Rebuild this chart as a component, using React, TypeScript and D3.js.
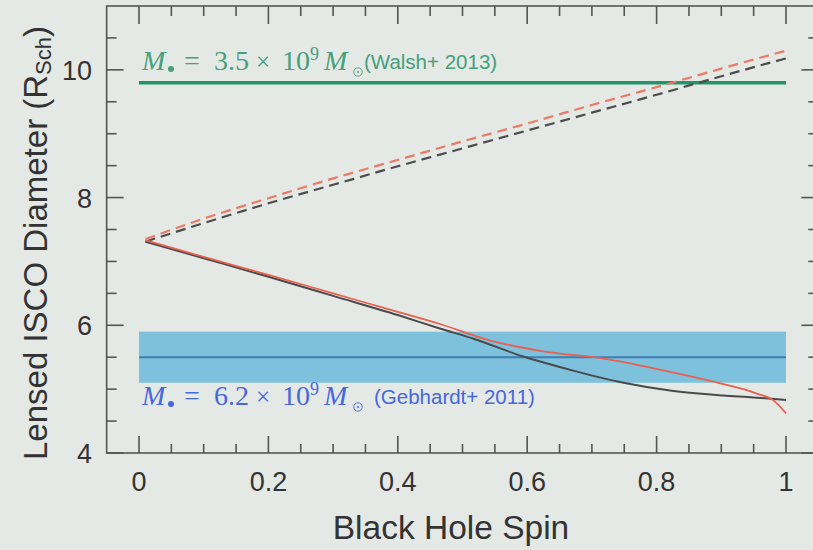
import React from "react";
import * as d3 from "d3";

// Black hole spin sampling and lensed ISCO diameters (in Schwarzschild radii)
const spinProgradeBlack = [0.01, 0.1, 0.2, 0.3, 0.4, 0.465, 0.517, 0.594, 0.671, 0.749, 0.826, 0.903, 0.95, 1.0];
const diamProgradeBlack = [7.31, 7.05, 6.76, 6.46, 6.16, 5.95, 5.79, 5.51, 5.29, 5.1, 4.97, 4.9, 4.87, 4.83];

const spinProgradeRed = [0.01, 0.1, 0.2, 0.3, 0.4, 0.465, 0.543, 0.62, 0.723, 0.826, 0.903, 0.955, 0.981, 1.0];
const diamProgradeRed = [7.33, 7.07, 6.79, 6.5, 6.21, 6.02, 5.76, 5.6, 5.47, 5.26, 5.08, 4.93, 4.82, 4.62];

const spinRetro = [0.01, 0.1, 0.2, 0.3, 0.4, 0.5, 0.6, 0.7, 0.8, 0.9, 1.0];
const diamRetroRed = [7.35, 7.67, 7.99, 8.3, 8.59, 8.88, 9.16, 9.45, 9.73, 10.02, 10.3];
const diamRetroBlack = [7.31, 7.6, 7.91, 8.2, 8.49, 8.77, 9.05, 9.33, 9.61, 9.9, 10.18];

// Mass-based constraints
const walshDiameter = 9.8;
const gebhardtDiameter = 5.5;
const gebhardtLow = 5.1;
const gebhardtHigh = 5.9;
const bandSpinRange = [0, 1];

const xTickLabels = ["0", "0.2", "0.4", "0.6", "0.8", "1"];
const xMajorTicks = [0, 0.2, 0.4, 0.6, 0.8, 1];
const yTickLabels = ["4", "6", "8", "10"];
const yMajorTicks = [4, 6, 8, 10];

const W = 813;
const H = 550;
const BG = "#e4e9e6";
const AXIS = "#555";
const SANS = "'Liberation Sans', Arial, sans-serif";

const x = d3.scaleLinear().domain([-0.05, 1.05]).range([106.65, 818.35]);
const y = d3.scaleLinear().domain([4, 11]).range([453, 6]);

const line = d3
  .line<[number, number]>()
  .x((d) => x(d[0]))
  .y((d) => y(d[1]))
  .curve(d3.curveMonotoneX);

const zip = (a: number[], b: number[]) => a.map((v, i) => [v, b[i]] as [number, number]);

type LabelProps = { x0: number; base: number; mantissa: string; ref: string; refX: number; color: string };

function MassLabel({ x0, base, mantissa, ref, refX, color }: LabelProps) {
  const serif = "'Liberation Serif', 'DejaVu Serif', serif";
  return (
    <g fill={color}>
      <text x={x0} y={base} fontFamily={serif} fontStyle="italic" fontSize={28}>M</text>
      <circle cx={x0 + 29} cy={base - 1} r={3} />
      <text x={x0 + 42} y={base} fontFamily={serif} fontSize={28}>=</text>
      <text x={x0 + 72} y={base} fontFamily={serif} fontSize={28}>{mantissa}</text>
      <text x={x0 + 114} y={base} fontFamily={serif} fontSize={25}>×</text>
      <text x={x0 + 140} y={base} fontFamily={serif} fontSize={28}>10</text>
      <text x={x0 + 168} y={base - 10} fontFamily={serif} fontSize={18}>9</text>
      <text x={x0 + 182} y={base} fontFamily={serif} fontStyle="italic" fontSize={28}>M</text>
      <circle cx={x0 + 216} cy={base + 2} r={4.2} fill="none" stroke={color} strokeWidth={0.9} />
      <circle cx={x0 + 216} cy={base + 2} r={1} />
      <text x={refX} y={base - 1} fontFamily={SANS} fontSize={20.5}>{ref}</text>
    </g>
  );
}

export default function App() {
  const xMinor = d3.range(0, 1.0001, 0.05).filter((v) => !xMajorTicks.some((m) => Math.abs(m - v) < 1e-6));
  const yMinor = d3.range(4.5, 11, 1).concat(d3.range(5, 11, 2));
  const [xl, xr] = x.range();
  const [yb, yt] = y.range();

  return (
    <div style={{ position: "fixed", left: 0, top: 0 }}>
      <svg width={W} height={H} style={{ display: "block", background: BG }}>
        <rect width={W} height={H} fill={BG} />

        {/* Gebhardt+ 2011 band and central value */}
        <rect
          x={x(bandSpinRange[0])}
          y={y(gebhardtHigh)}
          width={x(bandSpinRange[1]) - x(bandSpinRange[0])}
          height={y(gebhardtLow) - y(gebhardtHigh)}
          fill="#7dc1dc"
        />
        <line x1={x(bandSpinRange[0])} x2={x(bandSpinRange[1])} y1={y(gebhardtDiameter)} y2={y(gebhardtDiameter)} stroke="#3f7db2" strokeWidth={2} />

        {/* Walsh+ 2013 value */}
        <line x1={x(bandSpinRange[0])} x2={x(bandSpinRange[1])} y1={y(walshDiameter)} y2={y(walshDiameter)} stroke="#22946b" strokeWidth={3.5} />

        {/* ISCO curves */}
        <path d={line(zip(spinRetro, diamRetroBlack)) ?? ""} fill="none" stroke="#4d4d4d" strokeWidth={2.2} strokeDasharray="10,6" />
        <path d={line(zip(spinRetro, diamRetroRed)) ?? ""} fill="none" stroke="#ec7a66" strokeWidth={2.2} strokeDasharray="10,6" />
        <path d={line(zip(spinProgradeBlack, diamProgradeBlack)) ?? ""} fill="none" stroke="#4a4a4a" strokeWidth={2} />
        <path d={line(zip(spinProgradeRed, diamProgradeRed)) ?? ""} fill="none" stroke="#e8604e" strokeWidth={1.8} />

        <MassLabel x0={142} base={70} mantissa="3.5" ref="(Walsh+ 2013)" refX={364} color="#45a07c" />
        <MassLabel x0={142} base={405} mantissa="6.2" ref="(Gebhardt+ 2011)" refX={374} color="#4767df" />

        {/* frame */}
        <rect x={xl} y={yt} width={xr - xl} height={yb - yt} fill="none" stroke={AXIS} strokeWidth={1.6} />

        {/* x ticks, bottom and top */}
        {xMajorTicks.map((t) => (
          <g key={"xM" + t}>
            <line x1={x(t)} x2={x(t)} y1={yb} y2={yb - 17} stroke={AXIS} strokeWidth={1.6} />
            <line x1={x(t)} x2={x(t)} y1={yt} y2={yt + 18} stroke={AXIS} strokeWidth={1.6} />
          </g>
        ))}
        {xMinor.map((t) => (
          <g key={"xm" + t}>
            <line x1={x(t)} x2={x(t)} y1={yb} y2={yb - 9} stroke={AXIS} strokeWidth={1.6} />
            <line x1={x(t)} x2={x(t)} y1={yt} y2={yt + 10} stroke={AXIS} strokeWidth={1.6} />
          </g>
        ))}

        {/* y ticks, left and right */}
        {yMajorTicks.map((t) => (
          <g key={"yM" + t}>
            <line x1={xl} x2={xl + 17} y1={y(t)} y2={y(t)} stroke={AXIS} strokeWidth={1.6} />
            <line x1={xr} x2={xr - 17} y1={y(t)} y2={y(t)} stroke={AXIS} strokeWidth={1.6} />
          </g>
        ))}
        {yMinor.map((t) => (
          <g key={"ym" + t}>
            <line x1={xl} x2={xl + 10} y1={y(t)} y2={y(t)} stroke={AXIS} strokeWidth={1.6} />
            <line x1={xr} x2={xr - 10} y1={y(t)} y2={y(t)} stroke={AXIS} strokeWidth={1.6} />
          </g>
        ))}

        {/* tick labels */}
        <g fontFamily={SANS} fontSize={27} fill="#333">
          {xMajorTicks.map((t, i) => (
            <text key={"xl" + t} x={x(t)} y={491} textAnchor="middle">{xTickLabels[i]}</text>
          ))}
          {yMajorTicks.map((t, i) => (
            <text key={"yl" + t} x={92} y={y(t) + 10} textAnchor="end">{yTickLabels[i]}</text>
          ))}
        </g>

        {/* axis titles */}
        <text x={451} y={539} textAnchor="middle" fontFamily={SANS} fontSize={33.5} fill="#333">
          Black Hole Spin
        </text>
        <text transform="translate(47,243) rotate(-90)" textAnchor="middle" fontFamily={SANS} fontSize={33} fill="#333">
          Lensed ISCO Diameter (R<tspan fontSize={22} dy={4}>Sch</tspan><tspan dy={-4}>)</tspan>
        </text>
      </svg>
    </div>
  );
}
